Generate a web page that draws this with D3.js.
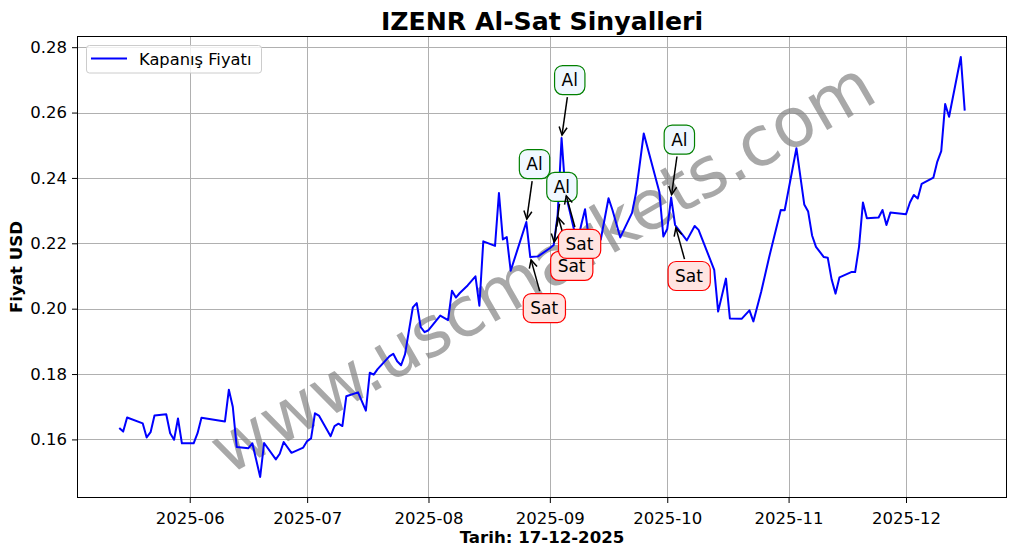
<!DOCTYPE html>
<html><head><meta charset="utf-8">
<script src="https://cdn.jsdelivr.net/npm/d3@7"></script>
<style>
body{margin:0;background:#fff}
svg{display:block}
text{font-family:"DejaVu Sans",sans-serif}
</style>
</head><body>
<svg id="chart" width="1017" height="554"></svg>
<script>
const dates = ["2025-05-14","2025-05-15","2025-05-16","2025-05-20","2025-05-21","2025-05-22","2025-05-23","2025-05-26","2025-05-27","2025-05-28","2025-05-29","2025-05-30","2025-06-02","2025-06-03","2025-06-04","2025-06-10","2025-06-11","2025-06-12","2025-06-13","2025-06-16","2025-06-17","2025-06-19","2025-06-20","2025-06-23","2025-06-24","2025-06-25","2025-06-27","2025-06-30","2025-07-01","2025-07-02","2025-07-03","2025-07-04","2025-07-07","2025-07-08","2025-07-09","2025-07-10","2025-07-11","2025-07-14","2025-07-16","2025-07-17","2025-07-18","2025-07-19","2025-07-22","2025-07-23","2025-07-24","2025-07-25","2025-07-26","2025-07-28","2025-07-29","2025-07-30","2025-07-31","2025-08-01","2025-08-04","2025-08-06","2025-08-07","2025-08-08","2025-08-09","2025-08-11","2025-08-13","2025-08-14","2025-08-15","2025-08-18","2025-08-19","2025-08-20","2025-08-21","2025-08-22","2025-08-26","2025-08-27","2025-08-29","2025-09-01","2025-09-02","2025-09-03","2025-09-04","2025-09-05","2025-09-08","2025-09-09","2025-09-10","2025-09-11","2025-09-14","2025-09-16","2025-09-17","2025-09-19","2025-09-22","2025-09-23","2025-09-25","2025-09-29","2025-09-30","2025-10-01","2025-10-02","2025-10-03","2025-10-06","2025-10-08","2025-10-09","2025-10-13","2025-10-14","2025-10-16","2025-10-17","2025-10-20","2025-10-22","2025-10-23","2025-10-25","2025-10-27","2025-10-30","2025-10-31","2025-11-03","2025-11-05","2025-11-06","2025-11-07","2025-11-08","2025-11-10","2025-11-11","2025-11-12","2025-11-13","2025-11-14","2025-11-17","2025-11-18","2025-11-19","2025-11-20","2025-11-21","2025-11-24","2025-11-25","2025-11-26","2025-11-27","2025-12-01","2025-12-02","2025-12-03","2025-12-04","2025-12-05","2025-12-08","2025-12-09","2025-12-10","2025-12-11","2025-12-12","2025-12-15","2025-12-16"];
const prices = [0.1635,0.1624,0.1667,0.1649,0.1606,0.1622,0.1673,0.1677,0.1619,0.1599,0.1664,0.1588,0.1588,0.1619,0.1666,0.1655,0.1752,0.1700,0.1577,0.1573,0.1588,0.1485,0.1589,0.1539,0.1556,0.1592,0.1559,0.1575,0.1595,0.1603,0.1680,0.1673,0.1610,0.1641,0.1648,0.1641,0.1732,0.1744,0.1688,0.1804,0.1798,0.1815,0.1854,0.1862,0.1839,0.1827,0.1860,0.2004,0.2017,0.1944,0.1928,0.1934,0.1979,0.1965,0.2055,0.2034,0.2048,0.2071,0.2099,0.2009,0.2206,0.2192,0.2354,0.2212,0.2219,0.2116,0.2265,0.2158,0.2160,0.2185,0.2195,0.2287,0.2522,0.2354,0.2200,0.2255,0.2304,0.2211,0.2211,0.2338,0.2302,0.2218,0.2293,0.2353,0.2536,0.2356,0.2221,0.2244,0.2340,0.2256,0.2209,0.2253,0.2241,0.2119,0.1991,0.2092,0.1970,0.1969,0.1995,0.1961,0.2052,0.2156,0.2302,0.2301,0.2491,0.2319,0.2297,0.2224,0.2189,0.2158,0.2156,0.2089,0.2046,0.2096,0.2112,0.2112,0.2190,0.2325,0.2277,0.2279,0.2302,0.2256,0.2294,0.2289,0.2325,0.2348,0.2337,0.2382,0.2401,0.2450,0.2482,0.2626,0.2587,0.2770,0.2606];
const signalDates = ["2025-08-26","2025-08-27","2025-09-02","2025-09-03","2025-09-04","2025-09-05","2025-10-02","2025-10-03"];
const signalTypes = ["Al","Sat","Al","Sat","Al","Sat","Al","Sat"];
const yTickValues = [0.16,0.18,0.20,0.22,0.24,0.26,0.28];
const xTickLabels = ["2025-06","2025-07","2025-08","2025-09","2025-10","2025-11","2025-12"];
const titleText = "IZENR Al-Sat Sinyalleri";
const xLabelText = "Tarih: 17-12-2025";
const yLabelText = "Fiyat USD";
const legendText = "Kapanış Fiyatı";
const watermarkText = "www.uscmarkets.com";

const parse = d3.utcParse("%Y-%m-%d");
const data = dates.map((d,i)=>({date:parse(d), price:prices[i]}));
const priceByDate = new Map(dates.map((d,i)=>[d,prices[i]]));

const W=1017,H=554;
const L=77,R=1007,T=36,B=498;
const svg=d3.select("#chart");

const t0=d3.min(data,d=>d.date), t1=d3.max(data,d=>d.date);
const span=t1-t0;
const x=d3.scaleUtc().domain([new Date(+t0-0.05*span), new Date(+t1+0.05*span)]).range([L,R]);
const pMin=d3.min(prices), pMax=d3.max(prices), pr=pMax-pMin;
const y=d3.scaleLinear().domain([pMin-0.05*pr, pMax+0.05*pr]).range([B,T]);

const xTicks = xTickLabels.map(s=>d3.utcParse("%Y-%m")(s));

// grid
const grid=svg.append("g");
grid.selectAll("line.v").data(xTicks).join("line")
  .attr("x1",d=>Math.round(x(d))+0.5).attr("x2",d=>Math.round(x(d))+0.5)
  .attr("y1",T).attr("y2",B).attr("stroke","#b0b0b0").attr("stroke-width",1);
grid.selectAll("line.h").data(yTickValues).join("line")
  .attr("y1",d=>Math.round(y(d))+0.5).attr("y2",d=>Math.round(y(d))+0.5)
  .attr("x1",L).attr("x2",R).attr("stroke","#b0b0b0").attr("stroke-width",1);

// watermark
svg.append("text").text(watermarkText)
  .attr("transform",`translate(${(L+R)/2},${(T+B)/2}) rotate(-30)`)
  .attr("text-anchor","middle").attr("dominant-baseline","central")
  .attr("font-size",69).attr("fill","#808080").attr("opacity",0.68);

// line
svg.append("path").datum(data)
  .attr("d",d3.line().x(d=>x(d.date)).y(d=>y(d.price)))
  .attr("fill","none").attr("stroke","#0000ff").attr("stroke-width",2)
  .attr("stroke-linejoin","round").attr("stroke-linecap","butt");

// axes
const xAxis=d3.axisBottom(x).tickValues(xTicks).tickFormat((d,i)=>xTickLabels[i]).tickSize(5).tickPadding(9);
const gx=svg.append("g").attr("transform",`translate(0,${B})`).call(xAxis);
const yAxis=d3.axisLeft(y).tickValues(yTickValues).tickFormat(d3.format(".2f")).tickSize(5).tickPadding(5);
const gy=svg.append("g").attr("transform",`translate(${L},0)`).call(yAxis);
[gx,gy].forEach(g=>{
  g.select(".domain").remove();
  g.selectAll("text").attr("font-size",16.5).attr("fill","#000").attr("font-family","DejaVu Sans");
  g.selectAll("line").attr("stroke","#000");
});
svg.append("rect").attr("x",L+0.5).attr("y",T+0.5).attr("width",R-L-1).attr("height",B-T-1)
  .attr("fill","none").attr("stroke","#000").attr("stroke-width",1);

// annotations
const ann=svg.append("g");
signalDates.forEach((sd,i)=>{
  const type=signalTypes[i];
  const px=x(parse(sd)), py=y(priceByDate.get(sd));
  const isBuy = type==="Al";
  const cy = isBuy ? py-58 : py+51;
  const g=ann.append("g");
  const txt=g.append("text").text(type).attr("x",px).attr("y",cy)
    .attr("dominant-baseline","central").attr("font-size",17).attr("fill","#000");
  const bb=txt.node().getBBox();
  const padX=7, h=29;
  const bx=bb.x-padX, bw=bb.width+2*padX, by=cy-h/2;
  g.insert("rect","text").attr("x",bx).attr("y",by).attr("width",bw).attr("height",h)
    .attr("rx",8).attr("fill",isBuy?"#f0f8ff":"#ffe4e1").attr("stroke",isBuy?"green":"red").attr("stroke-width",1.2);
  const cx=bx+bw/2;
  const dx=px-cx, dy=py-cy;
  const len=Math.hypot(dx,dy);
  const ux=dx/len, uy=dy/len;
  const tx = Math.abs(ux)>1e-6 ? (bw/2)/Math.abs(ux) : Infinity;
  const ty = Math.abs(uy)>1e-6 ? (h/2)/Math.abs(uy) : Infinity;
  const ts=Math.min(tx,ty)+2.5;
  const sx=cx+ux*ts, sy=cy+uy*ts;
  const ex=px-ux*3, ey=py-uy*3;
  ann.append("line").attr("x1",sx).attr("y1",sy).attr("x2",ex).attr("y2",ey)
    .attr("stroke","#000").attr("stroke-width",1.5);
  const hl=8, hw=4;
  const bx1=ex-ux*hl, by1=ey-uy*hl;
  ann.append("path").attr("d",`M${bx1-uy*hw},${by1+ux*hw}L${ex},${ey}L${bx1+uy*hw},${by1-ux*hw}`)
    .attr("fill","none").attr("stroke","#000").attr("stroke-width",1.5);
});

// title & labels
svg.append("text").text(titleText).attr("x",(L+R)/2).attr("y",21)
  .attr("text-anchor","middle").attr("dominant-baseline","central")
  .attr("font-size",25.2).attr("font-weight","bold");
svg.append("text").text(xLabelText).attr("x",(L+R)/2).attr("y",537)
  .attr("text-anchor","middle").attr("dominant-baseline","central")
  .attr("font-size",16.6).attr("font-weight","bold");
svg.append("text").text(yLabelText).attr("transform",`translate(16,${(T+B)/2}) rotate(-90)`)
  .attr("text-anchor","middle").attr("dominant-baseline","central")
  .attr("font-size",16.6).attr("font-weight","bold");

// legend
const lg=svg.append("g");
lg.append("rect").attr("x",86.5).attr("y",45.5).attr("width",175).attr("height",27.5).attr("rx",3)
  .attr("fill","#fff").attr("fill-opacity",0.8).attr("stroke","#cccccc");
lg.append("line").attr("x1",91).attr("x2",127).attr("y1",58.5).attr("y2",58.5).attr("stroke","#0000ff").attr("stroke-width",2);
lg.append("text").text(legendText).attr("x",139).attr("y",59).attr("dominant-baseline","central").attr("font-size",16.3);
</script>
</body></html>
